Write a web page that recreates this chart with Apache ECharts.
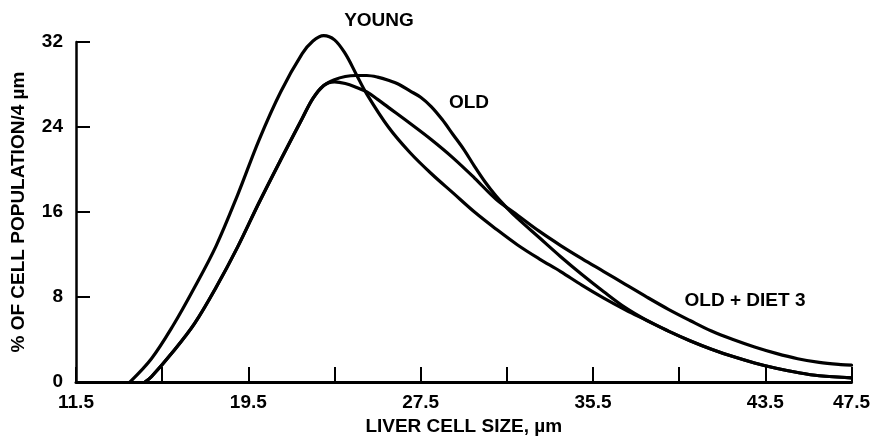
<!DOCTYPE html>
<html>
<head>
<meta charset="utf-8">
<title>Liver cell size distribution</title>
<script src="https://cdn.jsdelivr.net/npm/echarts@6/dist/echarts.min.js"></script>
<style>
  html, body { margin: 0; padding: 0; background: #fff; }
  #chart { width: 873px; height: 441px; }
</style>
</head>
<body>
<div id="chart"></div>
<script>
// Cell size (µm) and % of cell population per 4 µm class for each group
const youngSize = [14, 15, 16, 17, 18, 19, 20, 21, 22, 22.5, 23, 23.5, 24, 24.5, 25, 26, 27, 28, 29, 30, 31, 32, 33, 34, 35, 36, 37, 38, 39, 40, 41, 42, 43, 44, 45, 46, 47.5];
const youngPct  = [0, 2.2, 5.3, 8.9, 12.8, 17.6, 22.8, 27.3, 30.9, 32.1, 32.6, 32.2, 30.9, 29.0, 27.1, 24.0, 21.6, 19.6, 17.8, 16.0, 14.4, 12.9, 11.6, 10.4, 9.1, 7.9, 6.8, 5.8, 4.8, 3.9, 3.1, 2.4, 1.8, 1.3, 0.9, 0.6, 0.4];

const oldSize = [14.7, 15, 16, 17, 18, 19, 20, 21, 22, 22.5, 23, 23.5, 24, 24.5, 25, 25.5, 26, 26.5, 27, 27.5, 28, 28.5, 29, 29.5, 30, 30.5, 31, 31.5, 32, 33, 34, 35, 36, 37, 38, 39, 40, 41, 42, 43, 44, 45, 46, 47.5];
const oldPct  = [0, 0.5, 2.85, 5.5, 8.9, 12.7, 16.9, 20.9, 24.8, 26.7, 27.9, 28.45, 28.75, 28.85, 28.85, 28.7, 28.4, 28.0, 27.4, 26.8, 25.9, 24.7, 23.3, 21.9, 20.3, 18.8, 17.5, 16.4, 15.4, 13.6, 11.8, 10.1, 8.5, 7.0, 5.8, 4.8, 3.9, 3.1, 2.4, 1.8, 1.3, 0.9, 0.6, 0.4];

const dietSize = [14.7, 15, 16, 17, 18, 19, 20, 21, 22, 22.5, 23, 23.5, 24, 24.5, 25, 25.5, 26, 27, 28, 29, 30, 31, 32, 33, 34, 35, 36, 37, 38, 39, 40, 41, 42, 43, 44, 45, 46, 47, 47.5];
const dietPct  = [0, 0.5, 2.85, 5.5, 8.9, 12.7, 16.9, 20.9, 24.8, 26.7, 27.9, 28.25, 28.1, 27.75, 27.3, 26.6, 25.85, 24.35, 22.8, 21.1, 19.2, 17.2, 15.7, 14.2, 12.85, 11.6, 10.4, 9.2, 8.0, 6.85, 5.8, 4.8, 4.0, 3.3, 2.7, 2.2, 1.85, 1.65, 1.6];

// Axis ticks and labels
const xTicks  = [11.5, 15.5, 19.5, 23.5, 27.5, 31.5, 35.5, 39.5, 43.5, 47.5];
const xLabels = [11.5, 19.5, 27.5, 35.5, 43.5, 47.5];
const yTicks  = [0, 8, 16, 24, 32];

const curveNames = ['YOUNG', 'OLD', 'OLD + DIET 3'];

const pairs = (xs, ys) => xs.map((x, i) => [x, ys[i]]);

const FONT = '"Liberation Sans", Arial, Helvetica, sans-serif';
const INK = '#000';

const chart = echarts.init(document.getElementById('chart'), null, { renderer: 'canvas' });

function curve(name, xs, ys) {
  return {
    name: name,
    type: 'line',
    data: pairs(xs, ys),
    smooth: 0.35,
    showSymbol: false,
    clip: false,
    lineStyle: { color: INK, width: 3.2, cap: 'round', join: 'round' },
    emphasis: { disabled: true },
    z: 3
  };
}

function tag(text, x, y) {
  return {
    type: 'text', x: x, y: y, z: 10,
    style: { text: text, fill: INK, font: 'bold 19px ' + FONT, align: 'center', verticalAlign: 'middle' }
  };
}

chart.setOption({
  animation: false,
  backgroundColor: '#fff',
  grid: { left: 76, right: 19, top: 42, bottom: 54, containLabel: false },
  xAxis: {
    type: 'value',
    min: 11.5,
    max: 47.5,
    name: 'LIVER CELL SIZE, µm',
    nameLocation: 'middle',
    nameGap: 27,
    nameTextStyle: { color: INK, fontFamily: FONT, fontWeight: 'bold', fontSize: 19 },
    axisLine: { show: true, onZero: false, lineStyle: { color: INK, width: 3 } },
    axisTick: { show: true, inside: true, length: 15, customValues: xTicks, lineStyle: { color: INK, width: 2 } },
    axisLabel: {
      show: true, margin: 11, customValues: xLabels, color: INK,
      fontFamily: FONT, fontWeight: 'bold', fontSize: 19,
      formatter: v => v.toFixed(1)
    },
    splitLine: { show: false }
  },
  yAxis: {
    type: 'value',
    min: 0,
    max: 32,
    name: '% OF CELL POPULATION/4 µm',
    nameLocation: 'middle',
    nameGap: 48,
    nameRotate: 90,
    nameTextStyle: { color: INK, fontFamily: FONT, fontWeight: 'bold', fontSize: 19 },
    axisLine: { show: true, lineStyle: { color: INK, width: 2.5 } },
    axisTick: { show: true, inside: true, length: 14, customValues: yTicks, lineStyle: { color: INK, width: 2 } },
    axisLabel: {
      show: true, margin: 13, customValues: yTicks, color: INK,
      fontFamily: FONT, fontWeight: 'bold', fontSize: 19
    },
    splitLine: { show: false }
  },
  series: [
    curve(curveNames[0], youngSize, youngPct),
    curve(curveNames[1], oldSize, oldPct),
    curve(curveNames[2], dietSize, dietPct)
  ],
  graphic: [
    tag(curveNames[0], 379, 21),
    tag(curveNames[1], 469, 103),
    tag(curveNames[2], 745, 301)
  ]
});
</script>
</body>
</html>
